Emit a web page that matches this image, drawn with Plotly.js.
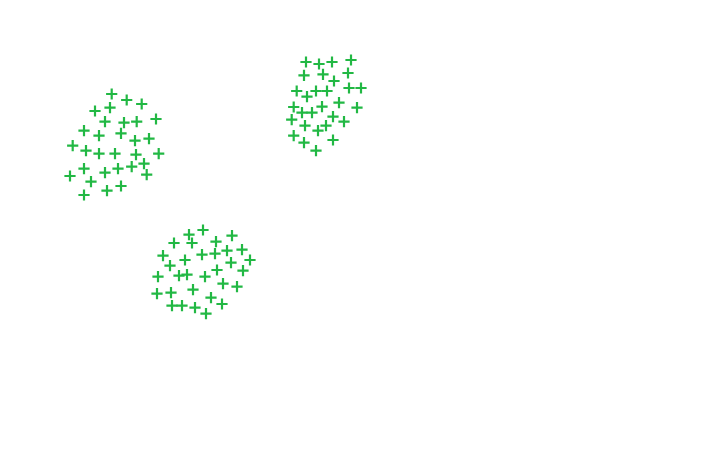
<!DOCTYPE html>
<html>
<head>
<meta charset="utf-8">
<script src="https://cdn.plot.ly/plotly-3.0.1.min.js"></script>
<style>html,body{margin:0;padding:0;background:#fff;}#chart{width:723px;height:456px;}</style>
</head>
<body>
<div id="chart"></div>
<script>
// Cluster A (upper left)
const clusterAX = [11.17,12.67,14.17,9.50,11.00,10.50,12.40,13.67,15.60,8.40,9.90,12.10,13.50,14.90,7.27,8.60,9.90,11.50,13.60,15.87,8.40,10.50,11.80,13.17,14.40,7.00,9.10,14.67,10.70,12.10,8.40];
const clusterAY = [36.20,35.60,35.20,34.50,34.83,33.43,33.33,33.43,33.70,32.53,32.03,32.27,31.53,31.73,31.03,30.53,30.23,30.23,30.13,30.23,28.73,28.33,28.73,28.93,29.23,28.00,27.43,28.13,26.53,27.00,26.10];
// Cluster B (upper middle)
const clusterBX = [30.60,31.90,33.20,35.10,30.40,32.30,34.80,33.40,29.67,30.70,31.60,32.70,34.90,36.10,29.37,30.20,31.20,32.20,33.90,35.70,29.17,30.50,31.80,32.60,33.30,34.40,29.37,30.40,33.30,31.60];
const clusterBY = [39.40,39.20,39.40,39.60,38.07,38.17,38.30,37.50,36.50,35.93,36.50,36.50,36.80,36.80,34.90,34.33,34.33,34.93,35.33,34.83,33.63,33.03,32.53,33.03,33.93,33.43,32.03,31.33,31.60,30.53];
// Cluster C (lower middle)
const clusterCX = [20.30,18.90,23.20,17.40,19.20,21.60,16.30,20.20,21.50,22.70,24.20,18.50,17.00,23.10,25.00,21.70,24.30,15.80,17.90,18.70,20.50,22.30,23.70,15.70,17.10,19.30,21.10,17.20,18.20,19.50,22.20,20.60];
const clusterCY = [22.60,22.13,22.03,21.30,21.30,21.43,20.03,20.13,20.23,20.53,20.63,19.60,19.03,19.33,19.60,18.60,18.53,17.93,18.03,18.13,17.93,17.23,16.93,16.23,16.33,16.63,15.83,15.03,15.03,14.83,15.20,14.23];

const xs = clusterAX.concat(clusterBX, clusterCX);
const ys = clusterAY.concat(clusterBY, clusterCY);

const trace = {
  x: xs, y: ys, type: 'scatter', mode: 'markers',
  marker: {symbol: 'cross-thin-open', size: 8, color: '#22b844', line: {width: 2.2, color: '#22b844'}},
  hoverinfo: 'skip'
};
const layout = {
  width: 723, height: 456,
  margin: {l: 0, r: 0, t: 0, b: 0},
  paper_bgcolor: '#ffffff', plot_bgcolor: '#ffffff',
  showlegend: false,
  xaxis: {range: [0, 72.3], visible: false, showgrid: false, zeroline: false},
  yaxis: {range: [0, 45.6], visible: false, showgrid: false, zeroline: false}
};
Plotly.newPlot('chart', [trace], layout, {staticPlot: true, displayModeBar: false});
</script>
</body>
</html>
